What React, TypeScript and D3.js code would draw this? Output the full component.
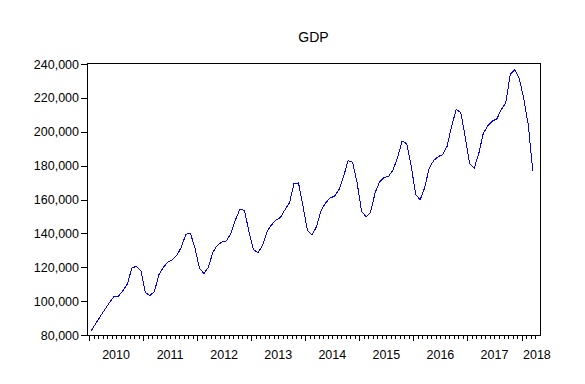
import * as d3 from 'd3';

// monthly GDP, Jan..Dec of each year
const gdp2010 = [82500, 86800, 91000, 95000, 99000, 102500, 102800, 106000, 110000, 119500, 120600, 118000];
const gdp2011 = [105000, 103300, 105500, 115500, 120000, 123000, 124500, 127000, 132000, 139500, 140000, 131500];
const gdp2012 = [119500, 116300, 120000, 129000, 133000, 135000, 135500, 140000, 148000, 154300, 153500, 141000];
const gdp2013 = [130500, 128500, 133000, 141000, 145000, 147800, 149500, 154000, 158000, 169500, 169800, 156000];
const gdp2014 = [141500, 139000, 144000, 153500, 158000, 160800, 162000, 166000, 173500, 183000, 182000, 170000];
const gdp2015 = [153000, 149800, 152500, 164000, 170500, 173000, 173700, 177500, 185000, 194500, 193000, 180000];
const gdp2016 = [163000, 159800, 167000, 178500, 183000, 185300, 186500, 191500, 203500, 213000, 211500, 197000];
const gdp2017 = [181000, 178500, 187000, 199000, 203500, 206300, 207500, 213000, 217000, 234000, 236500, 231500];
const gdp2018 = [219500, 204000, 176700];

const years = ['2010', '2011', '2012', '2013', '2014', '2015', '2016', '2017', '2018'];
const yTicks = [80000, 100000, 120000, 140000, 160000, 180000, 200000, 220000, 240000];

const width = 585;
const height = 384;
const frame = { left: 87, right: 540, top: 63, bottom: 335 };
const font = '"Liberation Sans", Arial, sans-serif';

const App = () => {
  const values = [...gdp2010, ...gdp2011, ...gdp2012, ...gdp2013, ...gdp2014, ...gdp2015, ...gdp2016, ...gdp2017, ...gdp2018];

  // x works on month index (0 = Jan 2010), ticks sit between months
  const x = d3.scaleLinear().domain([-0.95, 99.6]).range([frame.left, frame.right]);
  const y = d3.scaleLinear().domain([80000, 240000]).range([frame.bottom, 64]);

  const line = d3.line<number>()
    .x((_, i) => x(i))
    .y((d) => y(d));

  const fmt = d3.format(',');
  const px = (v: number) => Math.round(v) + 0.5;

  const monthTicks = d3.range(0, 100).map((m) => x(m - 0.5)).filter((v) => v < frame.right - 1);

  return (
    <svg width={width} height={height} style={{ position: 'absolute', left: 0, top: 0, background: '#fff' }}>
      <rect x={0} y={0} width={width} height={height} fill="#fff" />
      <text x={(frame.left + frame.right) / 2} y={42} textAnchor="middle" fontFamily={font} fontSize={14}>GDP</text>

      {/* y axis */}
      {yTicks.map((t) => (
        <g key={t}>
          <line x1={frame.left - 6} x2={frame.left} y1={px(y(t))} y2={px(y(t))} stroke="#000" shapeRendering="crispEdges" />
          <text x={frame.left - 8} y={y(t) + 4.5} textAnchor="end" fontFamily={font} fontSize={12.5}>{fmt(t)}</text>
        </g>
      ))}

      {/* x axis: month ticks and year ticks */}
      {monthTicks.map((v, i) => (
        <line key={i} x1={px(v)} x2={px(v)} y1={frame.bottom} y2={frame.bottom + (i % 12 === 0 ? 6 : 3.5)} stroke="#000" shapeRendering="crispEdges" />
      ))}
      {years.map((yr, k) => {
        const start = x(12 * k - 0.5);
        const end = x(12 * k + 11.5);
        const partial = end > frame.right;
        return (
          <text key={yr} x={partial ? start + 1.5 : (start + end) / 2} y={358.5}
            textAnchor={partial ? 'start' : 'middle'} fontFamily={font} fontSize={12.5}>{yr}</text>
        );
      })}

      <path d={line(values) ?? ''} fill="none" stroke="#0000ff" strokeWidth={1} shapeRendering="crispEdges" />

      <rect x={frame.left + 0.5} y={frame.top + 0.5} width={frame.right - frame.left} height={frame.bottom - frame.top}
        fill="none" stroke="#000" shapeRendering="crispEdges" />
    </svg>
  );
};

export default App;
